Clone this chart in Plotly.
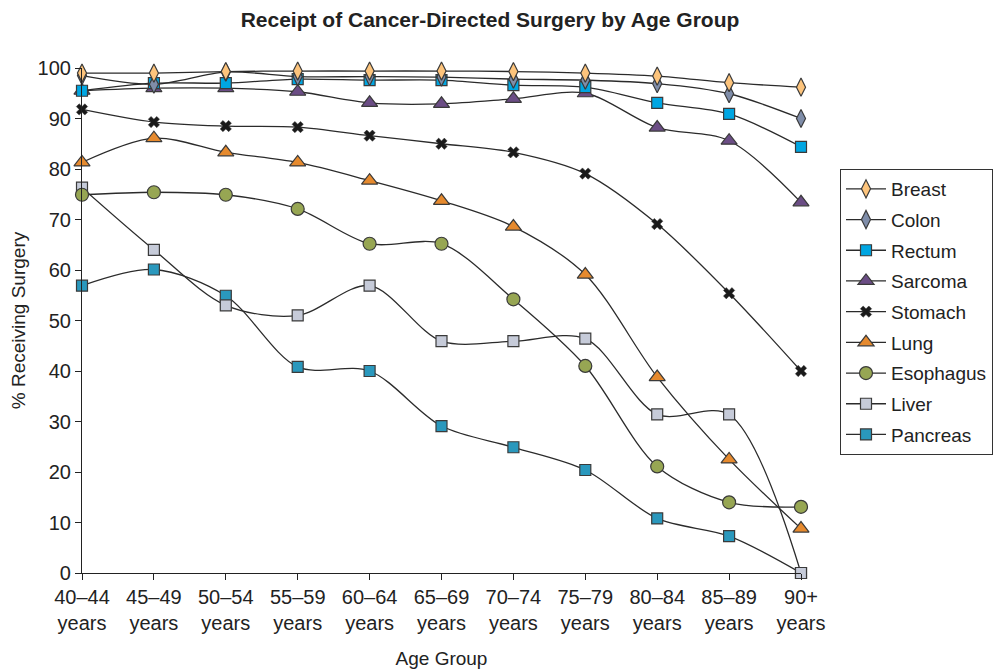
import plotly.graph_objects as go

# age groups (x categories)
age_groups = ["40–44<br>years", "45–49<br>years", "50–54<br>years", "55–59<br>years",
              "60–64<br>years", "65–69<br>years", "70–74<br>years", "75–79<br>years",
              "80–84<br>years", "85–89<br>years", "90+<br>years"]

# % receiving surgery
breast = [99.0, 99.0, 99.3, 99.4, 99.4, 99.4, 99.3, 99.0, 98.4, 97.1, 96.2]
colon = [98.5, 96.8, 99.2, 98.3, 98.3, 98.2, 97.8, 97.6, 96.9, 94.9, 90.0]
rectum = [95.5, 97.0, 97.0, 97.8, 97.6, 97.6, 96.6, 96.2, 93.1, 90.9, 84.4]
sarcoma = [95.5, 96.0, 96.0, 95.3, 93.1, 92.9, 93.9, 95.0, 88.2, 85.6, 73.4]
stomach = [91.8, 89.3, 88.5, 88.3, 86.6, 85.0, 83.3, 79.1, 69.1, 55.4, 40.0]
lung = [81.3, 86.1, 83.3, 81.3, 77.7, 73.7, 68.6, 59.1, 38.8, 22.5, 8.8]
esophagus = [74.9, 75.4, 74.9, 72.1, 65.2, 65.2, 54.2, 41.0, 21.1, 14.0, 13.1]
liver = [76.3, 64.0, 53.0, 51.0, 56.9, 45.9, 45.9, 46.4, 31.4, 31.4, 0.0]
pancreas = [56.9, 60.1, 54.9, 40.8, 40.0, 29.1, 24.9, 20.4, 10.8, 7.3, 0.0]

series = [
    ("Breast", breast, "diamond-tall", "#FDC47C", 13),
    ("Colon", colon, "diamond-tall", "#7F8DA9", 13),
    ("Rectum", rectum, "square", "#00A6E2", 11),
    ("Sarcoma", sarcoma, "triangle-up", "#6B4D85", 14),
    ("Stomach", stomach, "x", "#1a1a1a", 10),
    ("Lung", lung, "triangle-up", "#E68A2E", 14),
    ("Esophagus", esophagus, "circle", "#97A653", 13),
    ("Liver", liver, "square", "#C6CBD9", 11),
    ("Pancreas", pancreas, "square", "#2A98BD", 11),
]

fig = go.Figure()

# later series drawn first so Breast ends up on top
for rank, (name, vals, sym, col, size) in reversed(list(enumerate(series))):
    fig.add_trace(go.Scatter(
        x=age_groups, y=vals, name=name, mode="lines+markers",
        line=dict(color="#2b2b2b", width=1.3, shape="spline", smoothing=0.9),
        marker=dict(symbol=sym, size=size, color=col,
                    line=dict(color="#3a3a3a", width=1.2 if sym != "x" else 0.5)),
        cliponaxis=False, legendrank=rank, legendgroup=name,
    ))

# page body adds an 8px offset, so positions are shifted by that
fig.update_layout(
    width=1001, height=672,
    paper_bgcolor="white", plot_bgcolor="white",
    font=dict(family="Liberation Sans, Arial, sans-serif", size=20, color="#222"),
    title=dict(text="<b>Receipt of Cancer-Directed Surgery by Age Group</b>",
               x=482 / 1001, xref="container", xanchor="center",
               y=1 - 12 / 672, yref="container", yanchor="middle",
               font=dict(size=21)),
    margin=dict(l=74, r=208, t=60, b=107),
    legend=dict(x=832 / 1001, y=1 - 161 / 672, xref="container", yref="container",
                xanchor="left", yanchor="top",
                bordercolor="#333", borderwidth=1, bgcolor="white",
                tracegroupgap=3, itemwidth=40, font=dict(size=19)),
    showlegend=True,
)

fig.update_xaxes(
    type="category", range=[0, 10], showline=True, linecolor="#222", linewidth=1.2,
    ticks="outside", ticklen=6, tickcolor="#222", showgrid=False, zeroline=False,
    automargin=False, tickfont=dict(size=20),
    title=dict(text="Age Group", font=dict(size=19), standoff=18),
)
fig.update_yaxes(
    range=[0, 100], dtick=10, showline=True, linecolor="#222", linewidth=1.2,
    ticks="outside", ticklen=6, tickcolor="#222", showgrid=False, zeroline=False,
    automargin=False, tickfont=dict(size=20),
    title=dict(text="% Receiving Surgery", font=dict(size=19), standoff=6),
)

fig.write_html("out.html")
